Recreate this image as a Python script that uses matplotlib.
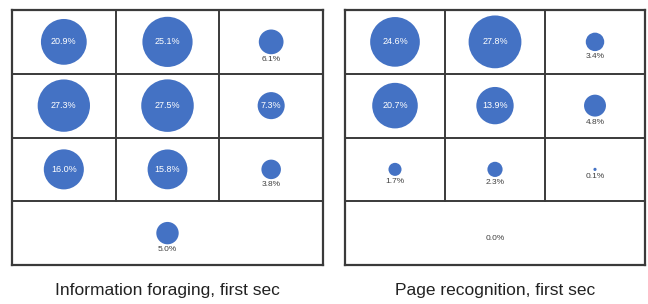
import matplotlib.pyplot as plt
import numpy as np

# values per cell, rows top->bottom, cols left->right
foraging_vals = [[20.9, 25.1, 6.1],
                 [27.3, 27.5, 7.3],
                 [16.0, 15.8, 3.8]]
foraging_bottom = 5.0
recognition_vals = [[24.6, 27.8, 3.4],
                    [20.7, 13.9, 4.8],
                    [1.7, 2.3, 0.1]]
recognition_bottom = 0.0
titles = ['Information foraging, first sec', 'Page recognition, first sec']

blue = '#4472C4'
line_col = '#3a3a3a'
k = 52.0  # pt^2 per percent

fig = plt.figure(figsize=(6.48, 3.04), dpi=100)
plt.rcParams['font.family'] = ['Liberation Sans', 'DejaVu Sans']


def draw_panel(ax, vals, bottom, title):
    ax.set_xlim(0, 3)
    ax.set_ylim(0, 4)
    ax.set_xticks([])
    ax.set_yticks([])
    for s in ax.spines.values():
        s.set_color(line_col)
        s.set_linewidth(1.6)
    for y in [1, 2, 3]:
        ax.axhline(y, color=line_col, lw=1.4)
    for x in [1, 2]:
        ax.plot([x, x], [1, 4], color=line_col, lw=1.4)
    cells = []
    for r, row in enumerate(vals):
        for c, v in enumerate(row):
            cells.append((c + 0.5, 3.5 - r, v))
    cells.append((1.5, 0.5, bottom))
    for x, y, v in cells:
        ax.scatter([x], [y], s=k * v, color=blue, edgecolors='none', zorder=3)
        lab = '%.1f%%' % v
        if v >= 7:
            ax.text(x, y, lab, color='white', fontsize=6.5, ha='center', va='center', zorder=4)
        else:
            rad = np.sqrt(k * v) / 2
            ax.annotate(lab, (x, y), xytext=(0, -rad - 1.5), textcoords='offset points',
                        ha='center', va='top', fontsize=6, color='#404040')
    ax.text(0.5, -0.1, title, transform=ax.transAxes, ha='center', va='center', fontsize=12.5, color='#222222')


ax1 = fig.add_axes([12 / 648, 39 / 304, 311 / 648, 255 / 304])
draw_panel(ax1, foraging_vals, foraging_bottom, titles[0])
ax2 = fig.add_axes([345 / 648, 39 / 304, 300 / 648, 255 / 304])
draw_panel(ax2, recognition_vals, recognition_bottom, titles[1])

fig.savefig('out.png', dpi=100)
